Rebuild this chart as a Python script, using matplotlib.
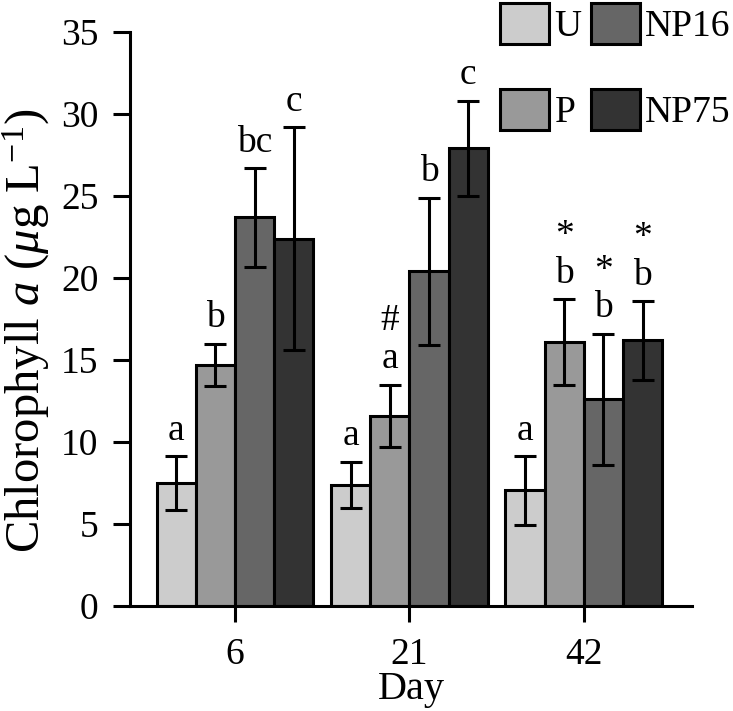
import matplotlib
matplotlib.use("Agg")
import matplotlib.pyplot as plt
import numpy as np
from matplotlib.patches import Patch

days = ["6", "21", "42"]
treatments = ["U", "P", "NP16", "NP75"]
colors = ["#cccccc", "#999999", "#666666", "#333333"]
means = {
    "U":    [7.5, 7.4, 7.05],
    "P":    [14.7, 11.6, 16.1],
    "NP16": [23.7, 20.4, 12.6],
    "NP75": [22.4, 27.9, 16.2],
}
errs = {
    "U":    [1.65, 1.4, 2.1],
    "P":    [1.3, 1.9, 2.6],
    "NP16": [3.0, 4.5, 4.0],
    "NP75": [6.8, 2.9, 2.4],
}
letters = {
    "U":    ["a", "a", "a"],
    "P":    ["b", "a", "b"],
    "NP16": ["bc", "b", "b"],
    "NP75": ["c", "c", "b"],
}
marks = {
    "U":    ["", "", ""],
    "P":    ["", "#", "*"],
    "NP16": ["", "", "*"],
    "NP75": ["", "", "*"],
}

plt.rcParams["font.family"] = ["Liberation Serif", "DejaVu Serif"]
plt.rcParams["mathtext.fontset"] = "custom"
plt.rcParams["mathtext.rm"] = "Liberation Serif"
plt.rcParams["mathtext.it"] = "Liberation Serif:italic"

FS = 27
fig = plt.figure(figsize=(7.33, 7.11), dpi=100)
ax = fig.add_axes([130/733, 1-606/711, (692-130)/733, (606-32)/711])

x = np.arange(len(days))
w = 0.225
lw = 2.2
for i, t in enumerate(treatments):
    xi = x + (i - 1.5) * w
    ax.bar(xi, means[t], width=w, color=colors[i], edgecolor="black",
           linewidth=lw, zorder=2)
    ax.errorbar(xi, means[t], yerr=errs[t], fmt="none", ecolor="black",
                elinewidth=lw, capsize=7.8, capthick=lw, zorder=3)
    for j in range(len(days)):
        top = means[t][j] + errs[t][j]
        yb = top + 1.0
        ax.text(xi[j], yb, letters[t][j], ha="center", va="baseline",
                fontsize=FS, zorder=4)
        if marks[t][j]:
            ax.text(xi[j], yb + 2.3, marks[t][j], ha="center", va="baseline",
                    fontsize=FS, zorder=4)

ax.set_xlim(-0.602, 2.62)
ax.set_ylim(0, 35)
ax.set_yticks(np.arange(0, 36, 5))
ax.set_xticks(x)
ax.set_xticklabels(days)
for s in ["top", "right"]:
    ax.spines[s].set_visible(False)
for s in ["left", "bottom"]:
    ax.spines[s].set_linewidth(lw)
ax.tick_params(axis="y", direction="out", length=12.2, width=lw, labelsize=FS, pad=10.5)
ax.tick_params(axis="x", direction="out", length=11.5, width=lw, labelsize=FS, pad=11.5)
ax.set_xlabel("Day", fontsize=29, labelpad=-1)
ax.set_ylabel("Chlorophyll $\\mathit{a}$ ($\\mathit{\u03bc}$g L$^{\\mathrm{-1}}$)",
              fontsize=35)
ax.yaxis.set_label_coords(-0.139, 0.48)

handles = [Patch(facecolor=colors[i], edgecolor="black", linewidth=lw,
                 label=treatments[i]) for i in range(4)]
fig.legend(handles=handles, loc="upper right", ncol=2, frameon=False,
           bbox_to_anchor=(731/733, 1-3/711), bbox_transform=fig.transFigure,
           fontsize=FS, handlelength=1.3, handleheight=1.3, handletextpad=0.15,
           columnspacing=0.25, labelspacing=1.2, borderpad=0, borderaxespad=0)

fig.savefig("out.png", dpi=100)
